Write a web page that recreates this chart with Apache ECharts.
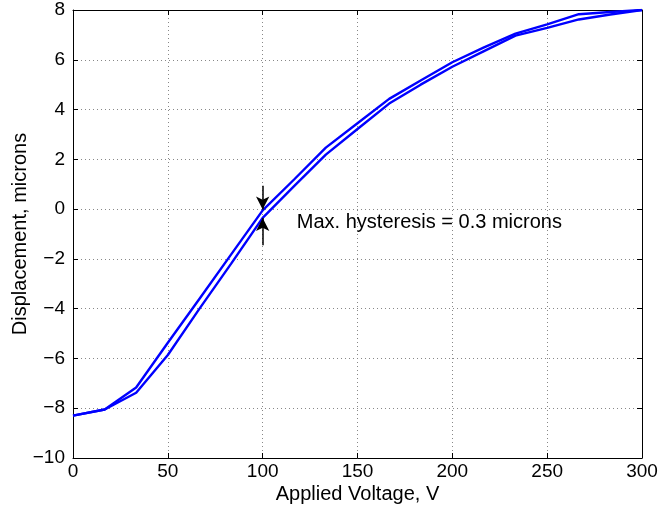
<!DOCTYPE html>
<html>
<head>
<meta charset="utf-8">
<script src="https://cdn.jsdelivr.net/npm/echarts@6/dist/echarts.min.js"></script>
<style>
  html, body { margin: 0; padding: 0; background: #fff; }
  #chart { width: 658px; height: 508px; }
</style>
</head>
<body>
<div id="chart"></div>
<script>
// applied voltage samples
const voltage = [0, 16.7, 33.3, 50, 66.7, 83.3, 100, 116.7, 133.3, 150, 166.7, 183.3, 200, 216.7, 233.3, 250, 266.7, 283.3, 300];
// upper branch of the loop
const upperBranch = [-8.3, -8.05, -7.17, -5.37, -3.6, -1.83, -0.05, 1.2, 2.47, 3.45, 4.43, 5.17, 5.9, 6.5, 7.05, 7.42, 7.83, 7.92, 8.0];
// lower branch of the loop
const lowerBranch = [-8.3, -8.05, -7.38, -5.86, -4.0, -2.2, -0.35, 0.93, 2.19, 3.22, 4.24, 5.0, 5.72, 6.35, 6.97, 7.28, 7.62, 7.82, 8.0];
// annotation
const noteText = 'Max. hysteresis = 0.3 microns';
const notePos = [118, -0.55];
const arrowDown = [[100, 0.94], [100, -0.02]];
const arrowUp = [[100, -1.45], [100, -0.36]];

const fontFamily = '"Liberation Sans", Arial, sans-serif';
const chart = echarts.init(document.getElementById('chart'));

const toPairs = ys => voltage.map((x, i) => [x, ys[i]]);
const minus = v => String(v).replace('-', '\u2212');

const gridLine = { show: true, lineStyle: { color: '#888', type: [1, 3], width: 1 } };
const frame = { show: true, onZero: false, lineStyle: { color: '#000', width: 1 } };
const ticks = { show: true, inside: true, length: 5, lineStyle: { color: '#000' } };

const option = {
    animation: false,
    grid: { left: 73, right: 16, top: 10, bottom: 50, containLabel: false, outerBoundsMode: 'none' },
    xAxis: [{
        type: 'value',
        min: 0, max: 300, interval: 50,
        name: 'Applied Voltage, V',
        nameLocation: 'middle',
        nameGap: 26,
        nameMoveOverlap: false,
        nameTextStyle: { color: '#000', fontSize: 20, fontFamily },
        axisLine: frame,
        axisTick: ticks,
        axisLabel: { color: '#000', fontSize: 19, fontFamily, margin: 4 },
        splitLine: gridLine
    }, {
        type: 'value',
        position: 'top',
        min: 0, max: 300, interval: 50,
        axisLine: frame,
        axisTick: ticks,
        axisLabel: { show: false },
        splitLine: { show: false }
    }],
    yAxis: [{
        type: 'value',
        min: -10, max: 8, interval: 2,
        name: 'Displacement, microns',
        nameLocation: 'middle',
        nameGap: 43,
        nameMoveOverlap: false,
        nameTextStyle: { color: '#000', fontSize: 20, fontFamily },
        axisLine: frame,
        axisTick: ticks,
        axisLabel: { color: '#000', fontSize: 19, fontFamily, margin: 8, formatter: minus },
        splitLine: gridLine
    }, {
        type: 'value',
        position: 'right',
        min: -10, max: 8, interval: 2,
        axisLine: frame,
        axisTick: ticks,
        axisLabel: { show: false },
        splitLine: { show: false }
    }],
    series: [{
        type: 'line',
        data: toPairs(upperBranch),
        showSymbol: false,
        lineStyle: { color: '#0000ff', width: 2.4 },
        markLine: {
            silent: true,
            symbol: ['none', 'arrow'],
            symbolSize: [10, 13],
            label: { show: false },
            lineStyle: { color: '#000', width: 1.5, type: 'solid' },
            data: [
                [{ coord: arrowDown[0] }, { coord: arrowDown[1] }],
                [{ coord: arrowUp[0] }, { coord: arrowUp[1] }]
            ]
        }
    }, {
        type: 'line',
        data: toPairs(lowerBranch),
        showSymbol: false,
        lineStyle: { color: '#0000ff', width: 2.4 }
    }]
};

chart.setOption(option);

const p = chart.convertToPixel({ xAxisIndex: 0, yAxisIndex: 0 }, notePos);
chart.setOption({
    graphic: [{
        type: 'text',
        x: p[0], y: p[1],
        style: { text: noteText, fill: '#000', fontSize: 20, fontFamily, verticalAlign: 'middle' }
    }]
});
</script>
</body>
</html>
